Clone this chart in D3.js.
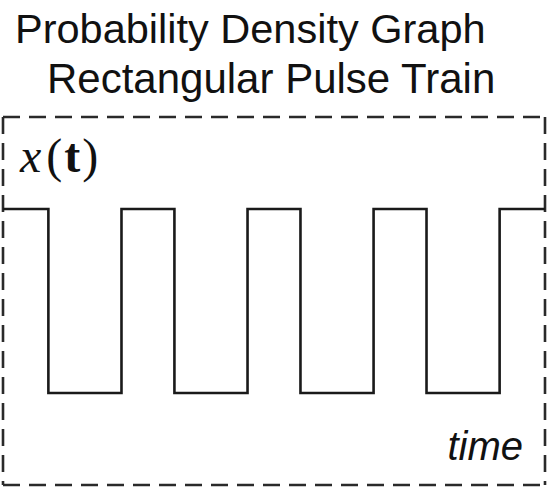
<!DOCTYPE html>
<html>
<head>
<meta charset="utf-8">
<script src="https://cdn.jsdelivr.net/npm/d3@7/dist/d3.min.js"></script>
<style>
  html, body { margin: 0; padding: 0; background: #fff; }
  svg { display: block; }
</style>
</head>
<body>
<svg id="chart" width="548" height="487"></svg>
<script>
// Title lines
const titleLines = ["Probability Density Graph", "Rectangular Pulse Train"];

// Signal: switching instants (time units) and the level held after each one
const edgeTimes = [0, 3.6, 9.4, 13.6, 19.4, 23.6, 29.4, 33.6, 39.4, 43];
const levels    = [1, 0,   1,   0,    1,    0,    1,    0,    1,    1];

const timeDomain  = [0, 43];
const levelDomain = [-0.5, 1.5];

const svg = d3.select("#chart");

const frame = { left: 3, right: 545, top: 117, bottom: 485 };

const x = d3.scaleLinear().domain(timeDomain).range([frame.left, frame.right]);
const y = d3.scaleLinear().domain(levelDomain).range([frame.bottom, frame.top]);

// Titles
const titleX = [15, 47];
const titleY = [43, 93];
const titleFont = [41.5, 42];
svg.selectAll("text.title")
  .data(titleLines)
  .join("text")
  .attr("class", "title")
  .attr("x", (d, i) => titleX[i])
  .attr("y", (d, i) => titleY[i])
  .attr("font-family", "'Liberation Sans', Arial, sans-serif")
  .attr("font-size", (d, i) => titleFont[i])
  .attr("fill", "#111")
  .text(d => d);

// Dashed frame, each side drawn from its starting corner
const [x0, x1] = x.range();
const [yb, yt] = y.range();
const sides = [
  [[x0, yt], [x1, yt]],
  [[x0, yb], [x1, yb]],
  [[x0, yt], [x0, yb]],
  [[x1, yt], [x1, yb]]
];
svg.selectAll("line.frame")
  .data(sides)
  .join("line")
  .attr("class", "frame")
  .attr("x1", d => d[0][0]).attr("y1", d => d[0][1])
  .attr("x2", d => d[1][0]).attr("y2", d => d[1][1])
  .attr("stroke", "#2a2a2a")
  .attr("stroke-width", 2.6)
  .attr("stroke-dasharray", "17 9");

// Pulse train
const pts = edgeTimes.map((t, i) => [t, levels[i]]);
const line = d3.line()
  .x(d => x(d[0]))
  .y(d => y(d[1]))
  .curve(d3.curveStepAfter);

svg.append("path")
  .datum(pts)
  .attr("d", line)
  .attr("fill", "none")
  .attr("stroke", "#1a1a1a")
  .attr("stroke-width", 2.6)
  .attr("stroke-linejoin", "miter");

// Axis labels
const yLabel = svg.append("text")
  .attr("x", 20)
  .attr("y", 172)
  .attr("font-family", "'Liberation Serif', 'Times New Roman', serif")
  .attr("font-size", 48)
  .attr("fill", "#111");
yLabel.append("tspan").attr("font-style", "italic").text("x");
yLabel.append("tspan").attr("dx", 5).attr("font-weight", "300").text("(");
yLabel.append("tspan").attr("dx", 2).attr("font-weight", "bold").text("t");
yLabel.append("tspan").attr("dx", 2).attr("font-weight", "300").text(")");

svg.append("text")
  .attr("x", 523)
  .attr("y", 460)
  .attr("text-anchor", "end")
  .attr("font-family", "'Liberation Sans', Arial, sans-serif")
  .attr("font-style", "italic")
  .attr("font-size", 40)
  .attr("fill", "#111")
  .text("time");
</script>
</body>
</html>
